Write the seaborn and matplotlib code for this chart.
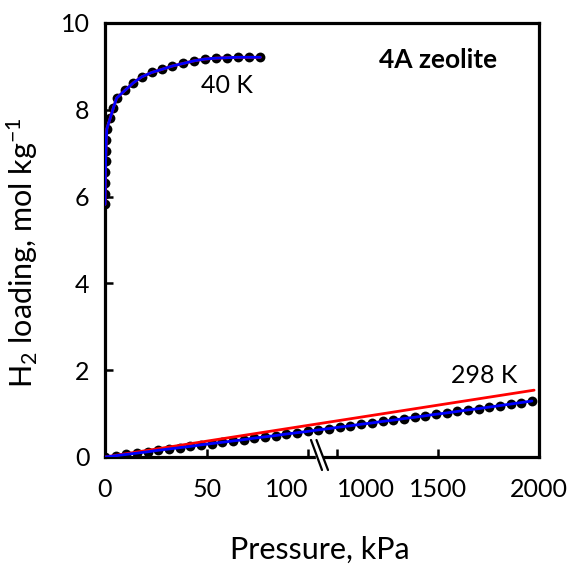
import numpy as np
import pandas as pd
import matplotlib
matplotlib.use("Agg")
import matplotlib.pyplot as plt
import seaborn as sns

# H2 adsorption on 4A zeolite
# 40 K isotherm (pressure in kPa, loading in mol/kg)
p_40k = [0.02, 0.05, 0.1, 0.2, 0.3, 0.45, 0.6, 0.9, 2.5, 4.1, 5.7, 9.9, 13.9,
         18.1, 23.0, 27.9, 33.2, 38.6, 44.0, 49.3, 54.7, 59.9, 65.2, 70.9, 76.4]
q_40k = [5.82, 6.05, 6.31, 6.56, 6.81, 7.06, 7.30, 7.56, 7.80, 8.04, 8.27, 8.45, 8.62,
         8.76, 8.86, 8.93, 9.01, 9.07, 9.13, 9.17, 9.19, 9.20, 9.21, 9.21, 9.21]

# 298 K isotherm
p_298k = [0, 50, 100, 150, 200, 250, 300, 350, 400, 450, 500, 550, 600, 650, 700,
          750, 800, 850, 900, 950, 1000, 1050, 1100, 1150, 1200, 1250, 1300, 1350,
          1400, 1450, 1500, 1550, 1600, 1650, 1700, 1750, 1800, 1850, 1900, 1950, 2000]
q_298k = [0.00, 0.03, 0.06, 0.09, 0.12, 0.155, 0.185, 0.215, 0.245, 0.28, 0.31,
          0.34, 0.37, 0.40, 0.435, 0.465, 0.495, 0.53, 0.56, 0.59, 0.625, 0.655,
          0.69, 0.72, 0.755, 0.785, 0.82, 0.85, 0.885, 0.915, 0.95, 0.985, 1.015,
          1.05, 1.085, 1.115, 1.15, 1.185, 1.22, 1.255, 1.29]

# Henry-law line at 298 K
p_henry = [0, 2010]
q_henry = [0.0, 1.54]

x_ticks = [0, 50, 100, 1000, 1500, 2000]
x_tick_labels = ["0", "50", "100", "1000", "1500", "2000"]
y_ticks = [0, 2, 4, 6, 8, 10]

sns.set_theme(style="white")
plt.rcParams["font.family"] = ["Lato", "DejaVu Sans"]
plt.rcParams["mathtext.fontset"] = "custom"
plt.rcParams["mathtext.rm"] = "Lato"
plt.rcParams["mathtext.it"] = "Lato"

fig = plt.figure(figsize=(5.71, 5.68), dpi=100)
ax = fig.add_axes([105 / 571, 1 - 457 / 568, 434 / 571, 434 / 568])

# broken pressure axis: 0-100 kPa stretched, 1000-2000 kPa compressed
_brk_in = [0, 107, 1000, 2000]
_brk_out = [0, 107, 114, 213.5]


def _fwd(x):
    return np.interp(x, _brk_in, _brk_out)


def _inv(y):
    return np.interp(y, _brk_out, _brk_in)


ax.set_xscale("function", functions=(_fwd, _inv))
ax.set_xlim(0, 2000)
ax.set_ylim(0, 10)

df40 = pd.DataFrame({"p": p_40k, "q": q_40k})
sns.scatterplot(data=df40, x="p", y="q", ax=ax, color="black", s=50,
                edgecolor="black", linewidth=0, zorder=2)
sns.lineplot(data=df40, x="p", y="q", ax=ax, color="#ff0000", lw=2,
             estimator=None, zorder=3)
sns.lineplot(data=df40, x="p", y="q", ax=ax, color="#0000ff", lw=2,
             estimator=None, zorder=4)

# 298 K data on its own linear pressure axis
ax2 = ax.twiny()
ax2.set_xlim(0, 2033)
df298 = pd.DataFrame({"p": p_298k, "q": q_298k})
dfh = pd.DataFrame({"p": p_henry, "q": q_henry})
sns.scatterplot(data=df298, x="p", y="q", ax=ax2, color="black", s=50,
                edgecolor="black", linewidth=0, zorder=2)
sns.lineplot(data=dfh, x="p", y="q", ax=ax2, color="#ff0000", lw=2,
             estimator=None, zorder=3)
sns.lineplot(data=df298, x="p", y="q", ax=ax2, color="#0000ff", lw=2,
             estimator=None, zorder=4)
ax2.set_xticks([])
ax2.set_xlabel("")
for s in ax2.spines.values():
    s.set_visible(False)
ax2.set_ylim(0, 10)

for s in ax.spines.values():
    s.set_visible(True)
    s.set_color("black")
    s.set_linewidth(2.3)

ax.set_xticks(x_ticks)
ax.set_xticklabels(x_tick_labels)
ax.set_yticks(y_ticks)
ax.tick_params(axis="both", direction="in", length=6, width=1.8,
               color="black", labelsize=18, labelcolor="black")
ax.tick_params(axis="x", pad=15, bottom=True)
ax.tick_params(axis="y", pad=11, left=True)
ax.minorticks_off()

# labels either side of the break sit clear of each other
xt = ax.get_xticklabels()
xt[2].set_horizontalalignment("right")
xt[3].set_horizontalalignment("left")

ax.set_xlabel("Pressure, kPa", fontsize=22, color="black")
ax.set_ylabel("H$_2$ loading, mol kg$^{-1}$", fontsize=22, color="black")
ax.xaxis.set_label_coords(0.495, -0.182)
ax.yaxis.set_label_coords(-0.15, 0.47)

ax.text(0.281, 0.857, "40 K", transform=ax.transAxes, fontsize=18,
        ha="center", va="center", color="black")
ax.text(0.873, 0.187, "298 K", transform=ax.transAxes, fontsize=18,
        ha="center", va="center", color="black")
ax.text(0.767, 0.915, "4A zeolite", transform=ax.transAxes, fontsize=19,
        fontweight="bold", ha="center", va="center", color="black")

# axis-break marks
x1a, x1b = (311 - 105) / 434, (322 - 105) / 434
x2a, x2b = (316.5 - 105) / 434, (328 - 105) / 434
ya, yb = (457 - 440) / 434, (457 - 470) / 434
ax.fill([x1a + 0.012, x2a + 0.012, x2b - 0.012, x1b - 0.012],
        [0.008, 0.008, -0.008, -0.008],
        color="white", transform=ax.transAxes, clip_on=False, zorder=10)
for xa, xb in ((x1a, x1b), (x2a, x2b)):
    ax.plot([xa, xb], [ya, yb], color="black", lw=1.6,
            transform=ax.transAxes, clip_on=False, zorder=11)

fig.savefig("out.png", dpi=100)
